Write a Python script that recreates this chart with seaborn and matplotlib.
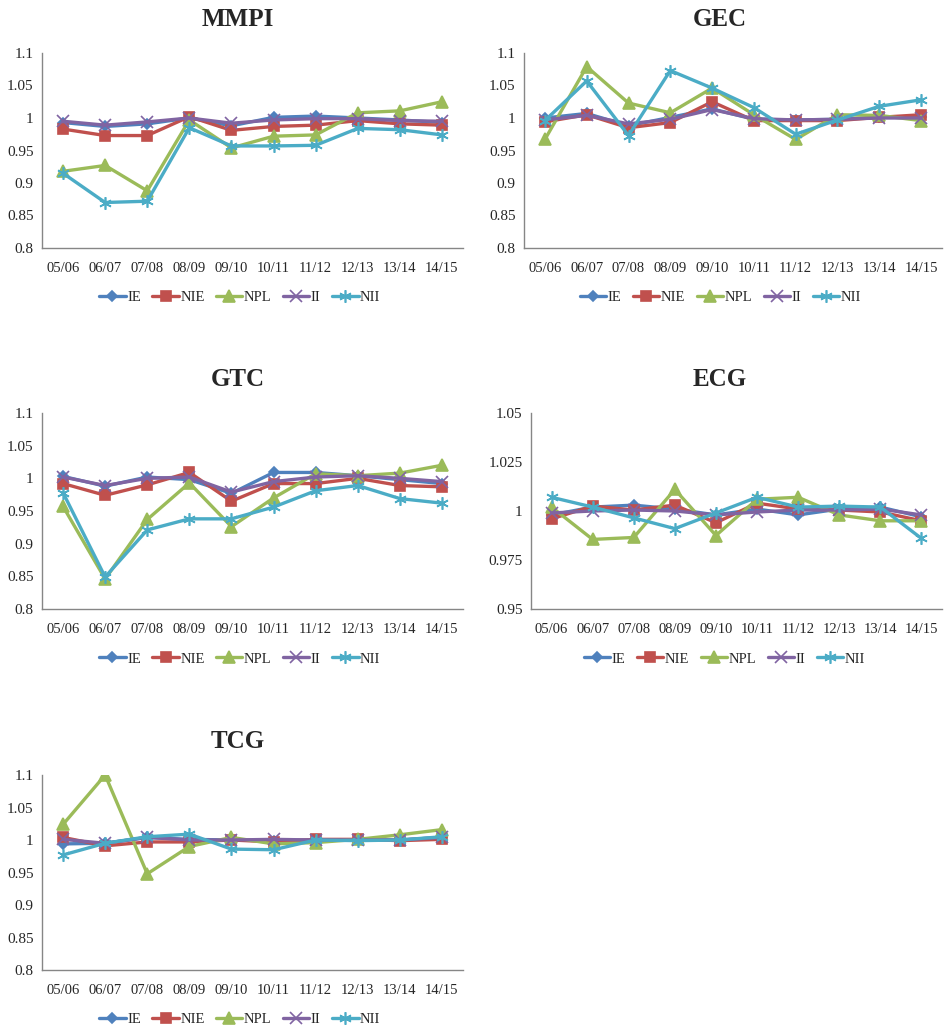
import matplotlib
matplotlib.use('Agg')

import matplotlib.pyplot as plt
import matplotlib.ticker as mticker
import seaborn as sns
import numpy as np
import pandas as pd

years = ["05/06", "06/07", "07/08", "08/09", "09/10",
         "10/11", "11/12", "12/13", "13/14", "14/15"]
series_names = ["IE", "NIE", "NPL", "II", "NII"]

mmpi_ie = [0.993, 0.987, 0.991, 1.000, 0.988, 1.001, 1.003, 1.000, 0.997, 0.993]
mmpi_nie = [0.983, 0.973, 0.973, 1.002, 0.981, 0.987, 0.989, 0.996, 0.991, 0.989]
mmpi_npl = [0.918, 0.927, 0.888, 0.997, 0.954, 0.972, 0.974, 1.008, 1.011, 1.025]
mmpi_ii = [0.995, 0.989, 0.994, 1.000, 0.992, 0.997, 0.999, 0.999, 0.996, 0.995]
mmpi_nii = [0.915, 0.870, 0.872, 0.985, 0.957, 0.957, 0.958, 0.984, 0.982, 0.974]

gec_ie = [1.000, 1.007, 0.988, 1.001, 1.014, 0.998, 0.997, 0.998, 1.001, 1.001]
gec_nie = [0.994, 1.005, 0.985, 0.993, 1.025, 0.996, 0.996, 0.996, 1.001, 1.005]
gec_npl = [0.967, 1.079, 1.023, 1.008, 1.046, 1.005, 0.967, 1.005, 1.004, 0.996]
gec_ii = [0.997, 1.004, 0.991, 0.998, 1.013, 0.999, 0.997, 0.998, 1.000, 1.000]
gec_nii = [0.996, 1.057, 0.973, 1.073, 1.046, 1.016, 0.975, 0.997, 1.018, 1.028]

gtc_ie = [1.003, 0.988, 1.002, 0.998, 0.977, 1.009, 1.009, 1.004, 0.998, 0.992]
gtc_nie = [0.992, 0.974, 0.990, 1.009, 0.965, 0.992, 0.992, 1.000, 0.989, 0.987]
gtc_npl = [0.957, 0.846, 0.937, 0.993, 0.926, 0.970, 1.007, 1.004, 1.008, 1.020]
gtc_ii = [1.002, 0.989, 1.000, 1.002, 0.979, 0.995, 1.002, 1.004, 1.000, 0.995]
gtc_nii = [0.978, 0.849, 0.921, 0.938, 0.938, 0.956, 0.981, 0.989, 0.969, 0.962]

ecg_ie = [0.998, 1.002, 1.003, 1.001, 0.998, 1.001, 0.998, 1.001, 1.002, 0.997]
ecg_nie = [0.996, 1.0025, 1.0005, 1.003, 0.994, 1.004, 1.001, 1.0005, 0.9995, 0.995]
ecg_npl = [1.002, 0.9855, 0.9865, 1.011, 0.9875, 1.006, 1.007, 0.998, 0.995, 0.995]
ecg_ii = [0.999, 1.000, 1.0005, 1.000, 0.998, 0.9995, 1.0005, 1.0005, 1.001, 0.998]
ecg_nii = [1.007, 1.002, 0.9965, 0.991, 0.999, 1.007, 1.002, 1.0025, 1.002, 0.986]

tcg_ie = [0.994, 0.995, 1.004, 1.001, 1.000, 0.999, 1.000, 1.000, 1.000, 1.004]
tcg_nie = [1.004, 0.991, 0.997, 0.997, 1.000, 0.997, 1.001, 1.001, 0.999, 1.001]
tcg_npl = [1.024, 1.100, 0.948, 0.990, 1.004, 0.994, 0.996, 1.001, 1.008, 1.016]
tcg_ii = [1.001, 0.995, 1.004, 1.000, 1.000, 1.001, 1.000, 1.000, 1.000, 1.004]
tcg_nii = [0.977, 0.995, 1.005, 1.009, 0.986, 0.985, 1.000, 0.999, 1.000, 1.005]

panels = [
    ("MMPI", [mmpi_ie, mmpi_nie, mmpi_npl, mmpi_ii, mmpi_nii], [0.8, 0.85, 0.9, 0.95, 1, 1.05, 1.1]),
    ("GEC", [gec_ie, gec_nie, gec_npl, gec_ii, gec_nii], [0.8, 0.85, 0.9, 0.95, 1, 1.05, 1.1]),
    ("GTC", [gtc_ie, gtc_nie, gtc_npl, gtc_ii, gtc_nii], [0.8, 0.85, 0.9, 0.95, 1, 1.05, 1.1]),
    ("ECG", [ecg_ie, ecg_nie, ecg_npl, ecg_ii, ecg_nii], [0.95, 0.975, 1, 1.025, 1.05]),
    ("TCG", [tcg_ie, tcg_nie, tcg_npl, tcg_ii, tcg_nii], [0.8, 0.85, 0.9, 0.95, 1, 1.05, 1.1]),
]

colors = ["#4F81BD", "#C0504D", "#9BBB59", "#8064A2", "#4BACC6"]
markers = ["D", "s", "^", "x", (6, 2, 0)]
msizes = [5, 7, 8, 8, 9]

sns.set_style("white")
plt.rcParams['font.family'] = ['Liberation Serif', 'DejaVu Serif']

fig = plt.figure(figsize=(9.44, 10.27), dpi=100)

# axes boxes in pixels: left, top, right, bottom
boxes = [(42, 53, 463, 248), (524, 53, 942, 248),
         (42, 413, 463, 609), (531, 413, 942, 609),
         (42, 775, 463, 970)]
title_pos = [(238, 20), (720, 20), (238, 380), (720, 380), (238, 742)]

W, H = 944, 1027
x = np.arange(len(years))

for (title, data, yticks), (l, t, r, b), (tx, ty) in zip(panels, boxes, title_pos):
    ax = fig.add_axes([l / W, 1 - b / H, (r - l) / W, (b - t) / H])
    for name, vals, c, m, ms in zip(series_names, data, colors, markers, msizes):
        df = pd.DataFrame({"x": x, "y": vals})
        sns.lineplot(data=df, x="x", y="y", ax=ax, color=c, marker=m,
                     markersize=ms, linewidth=2.4, markeredgecolor=c,
                     markeredgewidth=1.2, label=name)
    ax.set_xlim(-0.5, len(years) - 0.5)
    ax.set_ylim(yticks[0], yticks[-1])
    ax.set_yticks(yticks)
    ax.yaxis.set_major_formatter(mticker.FuncFormatter(lambda v, p: "%g" % v))
    ax.set_xticks(np.arange(-0.5, len(years), 1.0))
    ax.set_xticklabels([])
    ax.set_xticks(x, minor=True)
    ax.set_xticklabels(years, minor=True)
    ax.tick_params(axis='x', which='major', length=5, width=1, color="#868686", direction='out')
    ax.tick_params(axis='x', which='minor', length=0, pad=10, labelsize=10.5)
    ax.tick_params(axis='y', length=4, width=1, color="#868686", direction='out', labelsize=11, pad=2)
    ax.set_xlabel("")
    ax.set_ylabel("")
    for s in ["top", "right"]:
        ax.spines[s].set_visible(False)
    for s in ["left", "bottom"]:
        ax.spines[s].set_color("#868686")
        ax.spines[s].set_linewidth(1)
    ax.legend(loc="center", bbox_to_anchor=(0.47, -0.255), ncol=5, frameon=False,
              fontsize=10.5, handlelength=1.8, handletextpad=0.1, columnspacing=0.8)
    fig.text(tx / W, 1 - ty / H, title, ha="center", va="center",
             fontsize=18, fontweight="bold")

plt.savefig("out.png", dpi=100)
plt.close()
